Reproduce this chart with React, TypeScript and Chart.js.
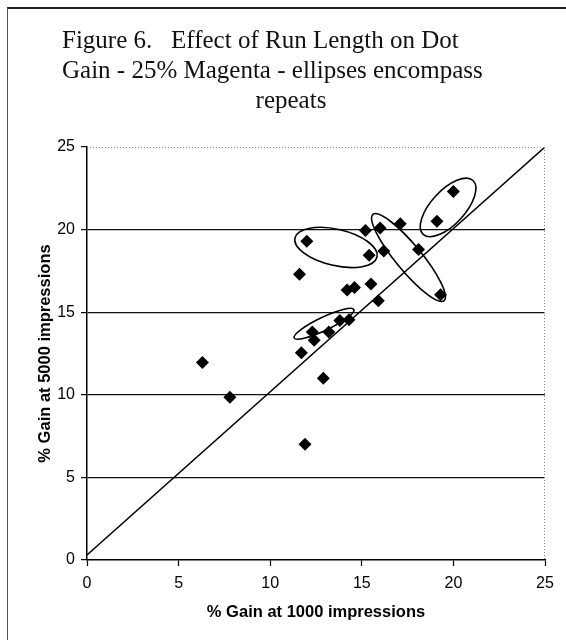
import React, { useEffect, useRef } from "react";
import { Chart, registerables } from "chart.js";

Chart.register(...registerables);

const titleLines = [
  "Figure 6.   Effect of Run Length on Dot",
  "Gain - 25% Magenta - ellipses encompass",
  "repeats",
];
const xAxisTitle = "% Gain at 1000 impressions";
const yAxisTitle = "% Gain at 5000 impressions";

const gainAt1000 = [
  6.3, 7.8, 11.6, 12.0, 11.7, 11.9, 12.9, 12.3, 12.4, 13.2, 13.8, 14.3, 14.2,
  14.6, 15.5, 15.9, 15.2, 15.4, 16.0, 16.2, 17.1, 18.1, 19.3, 19.1, 20.0,
];
const gainAt5000 = [
  11.95, 9.85, 17.3, 19.3, 12.55, 7.0, 11.0, 13.8, 13.3, 13.8, 14.5, 14.55,
  16.35, 16.5, 16.7, 15.7, 19.95, 18.45, 20.1, 18.7, 20.35, 18.8, 16.05, 20.5,
  22.3,
];

const refLineX = [0, 25];
const refLineY = [0.3, 25];

const axisTicks = [0, 5, 10, 15, 20, 25];

// ellipses (repeats): centre and major-axis tip in data units, minor/major ratio
const ellipseCenterX = [13.59, 17.55, 19.71, 12.94];
const ellipseCenterY = [18.92, 18.31, 21.34, 14.3];
const ellipseTipX = [15.83, 19.49, 21.07, 14.57];
const ellipseTipY = [18.34, 15.7, 22.97, 15.16];
const ellipseRatio = [0.43, 0.23, 0.46, 0.2];

const overlayPlugin = {
  id: "overlay",
  afterDatasetsDraw(chart: any) {
    const { ctx, chartArea, scales } = chart;
    const xs = scales.x;
    const ys = scales.y;
    ctx.save();
    // dotted top and right plot borders
    ctx.strokeStyle = "#888";
    ctx.lineWidth = 1;
    ctx.setLineDash([1, 2]);
    ctx.beginPath();
    ctx.moveTo(chartArea.left, chartArea.top + 0.5);
    ctx.lineTo(chartArea.right, chartArea.top + 0.5);
    ctx.moveTo(chartArea.right - 0.5, chartArea.top);
    ctx.lineTo(chartArea.right - 0.5, chartArea.bottom);
    ctx.stroke();
    ctx.setLineDash([]);
    // ellipses
    ctx.strokeStyle = "#000";
    ctx.lineWidth = 1.6;
    for (let i = 0; i < ellipseCenterX.length; i++) {
      const cx = xs.getPixelForValue(ellipseCenterX[i]);
      const cy = ys.getPixelForValue(ellipseCenterY[i]);
      const tx = xs.getPixelForValue(ellipseTipX[i]);
      const ty = ys.getPixelForValue(ellipseTipY[i]);
      const a = Math.hypot(tx - cx, ty - cy);
      const ang = Math.atan2(ty - cy, tx - cx);
      ctx.beginPath();
      ctx.ellipse(cx, cy, a, a * ellipseRatio[i], ang, 0, Math.PI * 2);
      ctx.stroke();
    }
    ctx.restore();
  },
  afterDraw(chart: any) {
    const { ctx } = chart;
    ctx.save();
    ctx.fillStyle = "#111";
    ctx.font = "25px 'Liberation Serif'";
    ctx.textBaseline = "alphabetic";
    ctx.textAlign = "left";
    ctx.fillText(titleLines[0], 62, 48);
    ctx.fillText(titleLines[1], 62, 78);
    ctx.textAlign = "center";
    ctx.fillText(titleLines[2], 291, 108);
    ctx.restore();
  },
};

export default function App() {
  const ref = useRef<HTMLCanvasElement | null>(null);
  useEffect(() => {
    if (!ref.current) return;
    const points = gainAt1000.map((x, i) => ({ x, y: gainAt5000[i] }));
    const line = refLineX.map((x, i) => ({ x, y: refLineY[i] }));
    const chart = new Chart(ref.current, {
      type: "scatter",
      data: {
        datasets: [
          {
            type: "line",
            data: line,
            borderColor: "#000",
            borderWidth: 1.5,
            pointRadius: 0,
            fill: false,
            order: 2,
          } as any,
          {
            data: points,
            backgroundColor: "#000",
            borderColor: "#000",
            pointStyle: "rectRot",
            pointRadius: 6.5,
            borderWidth: 0,
            order: 1,
          },
        ],
      },
      options: {
        responsive: false,
        animation: false,
        layout: { padding: { left: 0, top: 147, right: 21, bottom: 0 } },
        plugins: { legend: { display: false }, tooltip: { enabled: false }, title: { display: false } },
        scales: {
          x: {
            type: "linear",
            min: 0,
            max: 25,
            afterFit: (s: any) => {
              s.height = 80;
            },
            afterBuildTicks: (s: any) => {
              s.ticks = axisTicks.map((v) => ({ value: v }));
            },
            grid: { drawOnChartArea: false, drawTicks: true, tickLength: 6, tickColor: "#000", tickWidth: 1.2 },
            border: { display: true, color: "#000", width: 1.5 },
            ticks: { color: "#000", font: { family: "'Liberation Sans'", size: 16 }, padding: 8, maxRotation: 0 },
            title: {
              display: true,
              text: xAxisTitle,
              color: "#000",
              font: { family: "'Liberation Sans'", size: 16.5, weight: "bold" },
              padding: { top: 0, bottom: 18 },
            },
          },
          y: {
            type: "linear",
            min: 0,
            max: 25,
            afterFit: (s: any) => {
              s.width = 87;
            },
            afterBuildTicks: (s: any) => {
              s.ticks = axisTicks.map((v) => ({ value: v }));
            },
            grid: {
              color: (c: any) => (c.tick && (c.tick.value === 0 || c.tick.value === 25) ? "rgba(0,0,0,0)" : "#111"),
              lineWidth: 1.2,
              drawTicks: true,
              tickLength: 6,
              tickColor: "#000",
              tickWidth: 1.2,
            },
            border: { display: true, color: "#000", width: 1.5 },
            ticks: { color: "#000", font: { family: "'Liberation Sans'", size: 16 }, padding: 6 },
            title: {
              display: true,
              text: yAxisTitle,
              color: "#000",
              font: { family: "'Liberation Sans'", size: 16.5, weight: "bold" },
              padding: { top: 36, bottom: 0 },
            },
          },
        },
      },
      plugins: [overlayPlugin],
    });
    return () => chart.destroy();
  }, []);

  return (
    <div style={{ position: "absolute", left: 0, top: 0, width: 566, height: 640, overflow: "hidden", background: "#fff" }}>
      <div style={{ position: "absolute", left: 7, top: 7, width: 566, height: 640, borderTop: "2px solid #222", borderLeft: "1px solid #555" }} />
      <canvas ref={ref} width={566} height={640} style={{ position: "absolute", left: 0, top: 0 }} />
    </div>
  );
}
